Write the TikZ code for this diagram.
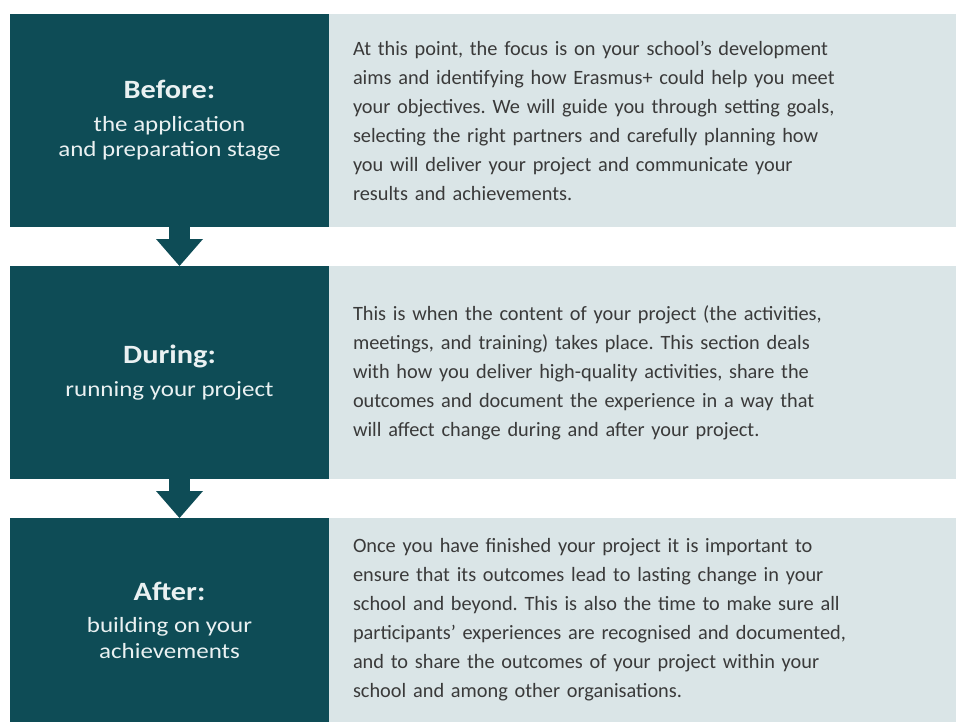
\documentclass[tikz,border=0pt]{standalone}
\usepackage{fontspec}
\setmainfont{Carlito}
\newfontfamily\stagefont[FakeStretch=1.15]{Carlito}
\usetikzlibrary{positioning,arrows.meta}
\frenchspacing

\definecolor{stageteal}{HTML}{0E4C56}
\definecolor{notegrey}{HTML}{DAE5E7}
\definecolor{notetext}{HTML}{3A3A3A}
\definecolor{stagetext}{HTML}{EAF1F2}

\tikzset{every picture/.style={line width=0.75pt}}
\tikzset{
  stage/.style={fill=stageteal, text=stagetext, minimum width=239.25pt, minimum height=159.75pt,
    inner sep=0pt, outer sep=0pt, align=center, font=\stagefont\fontsize{16.3}{19.2}\selectfont},
  note/.style={fill=notegrey, text=notetext, minimum width=470.25pt, minimum height=159.75pt,
    inner xsep=18pt, inner ysep=0pt, outer sep=0pt, text width=434.25pt, align=left,
    font=\fontsize{15.25}{21.75}\selectfont},
  stagearrow/.style={draw=stageteal, line width=15.75pt,
    -{Triangle[width=35.25pt,length=20.25pt,line width=0pt]}},
}
\newcommand{\stagehead}[1]{{\fontsize{19.8}{19.2}\selectfont\bfseries #1}}

\begin{document}
\begin{tikzpicture}[x=0.75pt,y=0.75pt,yscale=-1,xscale=1]
\useasboundingbox (0,0) rectangle (956,722);

%Shape: Rectangle -- before
\node[stage, anchor=north west] (before) at (10,14)
  {\stagehead{Before:}\\[5pt]the application\\and preparation stage};
\node[note, right=0pt of before] (beforenote)
  {At this point, the focus is on your school's development\\
   aims and identifying how Erasmus+ could help you meet\\
   your objectives. We will guide you through setting goals,\\
   selecting the right partners and carefully planning how\\
   you will deliver your project and communicate your\\
   results and achievements.};

%Shape: Rectangle -- during
\node[stage, below=29.25pt of before] (during)
  {\stagehead{During:}\\[5pt]running your project};
\node[note, right=0pt of during] (duringnote)
  {This is when the content of your project (the activities,\\
   meetings, and training) takes place. This section deals\\
   with how you deliver high-quality activities, share the\\
   outcomes and document the experience in a way that\\
   will affect change during and after your project.};

%Shape: Rectangle -- after
\node[stage, below=29.25pt of during, minimum height=153pt] (after)
  {\stagehead{After:}\\[5pt]building on your\\achievements};
\node[note, right=0pt of after, minimum height=153pt] (afternote)
  {Once you have finished your project it is important to\\
   ensure that its outcomes lead to lasting change in your\\
   school and beyond. This is also the time to make sure all\\
   participants' experiences are recognised and documented,\\
   and to share the outcomes of your project within your\\
   school and among other organisations.};

%Block Arrows
\draw[stagearrow] ([xshift=7.5pt]before.south) -- ([xshift=7.5pt]during.north);
\draw[stagearrow] ([xshift=7.5pt]during.south) -- ([xshift=7.5pt]after.north);

\end{tikzpicture}
\end{document}
